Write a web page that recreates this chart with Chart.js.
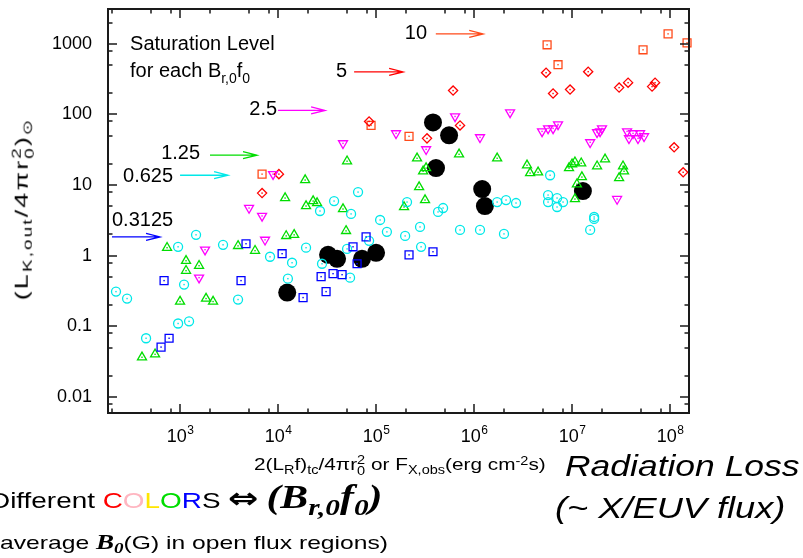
<!DOCTYPE html>
<html>
<head>
<meta charset="utf-8">
<script src="https://cdn.jsdelivr.net/npm/chart.js@4.4.1/dist/chart.umd.min.js"></script>
<style>
    html, body { margin: 0; padding: 0; background: #fff; overflow: hidden; }
    #contenedor { position: relative; width: 803px; height: 558px; overflow: hidden; }
    #grafico { position: absolute; left: 0; top: 0; }
    .txt { position: absolute; left: 0; top: 0; white-space: nowrap; color: #000;
           font-family: "Liberation Sans", Arial, sans-serif; line-height: 1.2; }
    .txt sub { font-size: 0.7em; vertical-align: -0.3em; line-height: 0; }
    .txt sup { font-size: 0.7em; vertical-align: 0.45em; line-height: 0; }
    .ss { display: inline-block; font-size: 0.7em; line-height: 0.95; vertical-align: -0.45em; }
    .ss span { display: block; }
    .it { font-style: italic; }
    .serif { font-family: "Liberation Serif", "Times New Roman", serif; font-weight: bold; font-style: italic; }
    .flechadoble { font-family: "DejaVu Sans", sans-serif; font-weight: bold; font-size: 1.3em; }
</style>
</head>
<body>
<div id="contenedor">
    <canvas id="grafico" width="803" height="558"></canvas>
    <div class="txt" id="tituloY" style="font-size:19px;letter-spacing:1.5px">(L<sub>K,out</sub>/4πr<span class="ss"><span>2</span><span>0</span></span>)<sub>⊙</sub></div>
    <div class="txt" id="tituloX" style="font-size:17px">2(L<sub>R</sub>f)<sub>tc</sub>/4πr<span class="ss"><span>2</span><span>0</span></span> or F<sub>X,obs</sub>(erg cm<sup>-2</sup>s)</div>
    <div class="txt it" id="radLoss" style="font-size:30px">Radiation Loss</div>
    <div class="txt it" id="flux" style="font-size:29px">(~ X/EUV flux)</div>
    <div class="txt" id="colores" style="font-size:22px">Different <span style="color:#ff0000">C</span><span style="color:#ffb6c1">O</span><span style="color:#ffe600">L</span><span style="color:#00dd00">O</span><span style="color:#0000ff">R</span>S <span class="flechadoble">⇔</span> <span class="serif" style="font-size:1.5em">(B<sub>r,0</sub>f<sub>0</sub>)</span></div>
    <div class="txt" id="promedio" style="font-size:19px">average <span class="serif" style="font-size:1.1em">B<sub>0</sub></span>(G) in open flux regions)</div>
</div>
<script>
// ejes
const xTickValues = [1e3, 1e4, 1e5, 1e6, 1e7, 1e8];
const xTickExponents = ['3', '4', '5', '6', '7', '8'];
const yTickValues = [0.01, 0.1, 1, 10, 100, 1000];
const yTickLabels = ['0.01', '0.1', '1', '10', '100', '1000'];
const minorSteps = [2, 5, 8];

// B_r,0 f_0 = 0.3125 (cuadros azules)
const sat03125X = [687, 4190, 773, 640, 4710, 1.10e4, 1.80e4, 3.09e4, 2.75e4, 3.64e4, 4.50e4, 6.40e4, 7.91e4, 5.82e4, 2.17e5, 3.81e5];
const sat03125Y = [0.445, 0.445, 0.068, 0.051, 1.48, 1.07, 0.256, 0.311, 0.506, 0.558, 0.540, 0.771, 1.85, 1.34, 1.03, 1.14];

// 0.625 (circulos cian)
const sat0625X = [222, 288, 450, 955, 1236, 1099, 3906, 1.26e4, 1.39e4, 1456, 2746, 955, 8283, 2.81e4, 5.43e4, 1.93e4, 3.73e4, 2.68e4, 5.56e4, 6.55e4,
                  1.10e5, 1.29e5, 1.98e5, 2.81e5, 2.88e5, 8.49e4, 5.06e4, 2.07e5, 4.29e5, 4.83e5, 7.19e5, 1.15e6, 1.72e6, 2.12e6, 2.68e6, 2.02e6,
                  5.97e6, 5.69e6, 5.69e6, 7.03e6, 8.09e6, 7.03e6, 1.68e7, 1.68e7, 1.53e7];
const sat0625Y = [0.311, 0.248, 0.068, 0.110, 0.118, 0.391, 0.240, 0.474, 0.797, 1.98, 1.43, 1.34, 0.968, 0.771, 0.490, 1.30, 5.95, 4.30, 3.91, 7.97,
                  3.21, 2.18, 1.91, 2.56, 1.34, 1.63, 1.25, 5.76, 4.17, 4.74, 2.32, 2.32, 5.76, 6.15, 5.58, 2.04,
                  13.8, 7.23, 5.76, 6.56, 5.76, 4.90, 3.54, 3.32, 2.32];

// 1.25 (triangulos verdes)
const sat125X = [409, 556, 1000, 1842, 2172, 1151, 1563, 1151, 737, 3906, 5824, 1.21e4, 1.46e4, 1.18e4, 1.89e4, 1.93e4, 2.28e4, 2.50e4, 4.60e4, 4.94e4,
                 5.06e4, 1.93e5, 3.16e5, 2.75e5, 3.02e5, 3.24e5, 2.62e5, 7.03e5, 1.72e6, 3.47e6, 3.73e6, 4.50e6, 9.31e6, 1.0e7, 1.07e7, 1.24e7,
                 1.80e7, 2.17e7, 1.26e7, 1.12e7, 1.07e7, 3.31e7, 3.39e7, 3.02e7];
const sat125Y = [0.0366, 0.0403, 0.225, 0.248, 0.225, 0.850, 0.723, 0.615, 1.30, 1.38, 1.18, 1.91, 1.98, 6.56, 11.8, 5.06, 5.95, 5.58, 4.59, 2.25,
                 21.8, 4.90, 6.15, 9.37, 15.7, 17.4, 24.0, 27.3, 24.0, 19.1, 14.8, 15.2, 17.4, 19.8, 21.1, 20.4,
                 18.5, 23.2, 13.0, 10.3, 6.35, 18.5, 15.7, 12.6];

// 2.5 (triangulos invertidos magenta)
const sat25X = [1563, 1799, 7366, 5058, 6868, 8892, 4.60e4, 1.60e5, 3.24e5, 6.40e5, 1.15e6, 2.33e6, 4.94e6, 5.69e6, 6.40e6, 7.19e6,
                1.53e7, 1.80e7, 1.93e7, 2.02e7, 2.88e7, 3.64e7, 4.19e7, 4.94e7, 5.43e7, 3.81e7, 4.71e7];
const sat25Y = [0.490, 1.22, 1.68, 4.74, 3.66, 14.3, 39.0, 54.0, 32.1, 93.7, 47.4, 107, 57.6, 63.5, 63.5, 72.3,
                40.3, 55.8, 57.6, 63.5, 6.35, 57.6, 54.0, 54.0, 49.0, 45.9, 45.9];

// 5 (rombos rojos)
const sat5X = [6868, 1.02e4, 8.49e4, 3.31e5, 6.11e5, 7.19e5, 5.43e6, 6.40e6, 9.54e6, 1.46e7, 3.02e7, 3.73e7, 6.55e7, 7.03e7, 1.10e8, 1.36e8];
const sat5Y = [7.71, 14.3, 79.7, 45.9, 218, 70.0, 390, 198, 225, 403, 240, 282, 248, 282, 34.3, 15.2];

// 10 (cuadros naranja)
const sat10X = [6868, 8.89e4, 2.17e5, 5.56e6, 7.19e6, 5.30e7, 9.54e7, 1.49e8];
const sat10Y = [14.3, 70.0, 49.0, 968, 506, 823, 1383, 1033];

// observaciones (circulos negros)
const obsX = [3.81e5, 5.56e5, 4.09e5, 1.21e6, 1.29e6, 1.29e7, 1.24e4, 3.24e4, 4.00e4, 7.19e4, 1.0e5];
const obsY = [77.2, 50.6, 17.4, 8.78, 5.06, 8.23, 0.301, 1.03, 0.907, 0.907, 1.10];

// flechas de nivel de saturacion
const nivelLabels = ['10', '5', '2.5', '1.25', '0.625', '0.3125'];
const flechaX0 = [4.07e5, 5.97e4, 1.0e4, 2.02e3, 1000, 202];
const flechaX1 = [1.24e6, 1.89e5, 3.02e4, 6.1e3, 3.09e3, 625];
const flechaY = [1380, 400, 114, 26.5, 13.8, 1.85];
const etiquetaX = [3.31e5, 5.06e4, 9.77e3, 1.6e3, 849, 202];
const etiquetaY = [1380, 400, 116, 28.2, 13.4, 3.11];

const FUENTE = '"Liberation Sans", Arial, sans-serif';
const colores = ['#ff4a1a', '#ff0000', '#ff00ff', '#00dd00', '#00e8e8', '#0000ff'];

function puntos(xs, ys) {
    return xs.map((x, i) => ({ x: x, y: ys[i] }));
}

function abierto(label, xs, ys, color, estilo, radio, rotacion) {
    return {
        label: label,
        data: puntos(xs, ys),
        pointStyle: estilo,
        pointRadius: radio,
        pointRotation: rotacion || 0,
        pointBorderColor: color,
        pointBackgroundColor: 'rgba(0,0,0,0)',
        pointBorderWidth: 1.3,
        showLine: false,
        clip: false,
        punto: true
    };
}

function textoRico(ctx, partes, x, y, size) {
    let cx = x;
    partes.forEach(([t, modo]) => {
        const fs = modo ? size * 0.7 : size;
        ctx.font = fs + 'px ' + FUENTE;
        ctx.fillText(t, cx, y + (modo === 1 ? size * 0.3 : 0));
        cx += ctx.measureText(t).width;
    });
}

const marcoPlugin = {
    id: 'marco',
    afterDatasetsDraw(chart) {
        const ctx = chart.ctx;
        // punto central de los marcadores abiertos
        chart.data.datasets.forEach((ds, i) => {
            if (!ds.punto) return;
            ctx.fillStyle = ds.pointBorderColor;
            chart.getDatasetMeta(i).data.forEach(el => {
                ctx.fillRect(el.x - 0.7, el.y - 0.7, 1.4, 1.4);
            });
        });
    },
    afterDraw(chart) {
        const ctx = chart.ctx;
        const a = chart.chartArea;
        const xs = chart.scales.x, ys = chart.scales.y;
        ctx.save();
        ctx.strokeStyle = '#1a1a1a';
        ctx.lineWidth = 1.5;
        // ticks hacia adentro
        const ticksX = [], ticksY = [];
        xTickValues.concat([1e2]).forEach(v => {
            ticksX.push([v, 9]);
            minorSteps.forEach(m => ticksX.push([v * m, 4.5]));
        });
        yTickValues.concat([1e-3]).forEach(v => {
            ticksY.push([v, 9]);
            minorSteps.forEach(m => ticksY.push([v * m, 4.5]));
        });
        ctx.beginPath();
        ticksX.forEach(([v, len]) => {
            const px = Math.round(xs.getPixelForValue(v));
            if (px < a.left || px > a.right) return;
            ctx.moveTo(px, a.bottom); ctx.lineTo(px, a.bottom - len);
            ctx.moveTo(px, a.top); ctx.lineTo(px, a.top + len);
        });
        ticksY.forEach(([v, len]) => {
            const py = Math.round(ys.getPixelForValue(v));
            if (py < a.top || py > a.bottom) return;
            ctx.moveTo(a.left, py); ctx.lineTo(a.left + len, py);
            ctx.moveTo(a.right, py); ctx.lineTo(a.right - len, py);
        });
        ctx.stroke();
        ctx.lineWidth = 2;
        ctx.strokeRect(a.left, a.top, a.right - a.left, a.bottom - a.top);

        // etiquetas de los ejes
        ctx.fillStyle = '#000';
        ctx.textBaseline = 'middle';
        ctx.textAlign = 'right';
        ctx.font = '18px ' + FUENTE;
        yTickValues.forEach((v, i) => {
            ctx.fillText(yTickLabels[i], a.left - 16, ys.getPixelForValue(v));
        });
        ctx.textBaseline = 'alphabetic';
        ctx.textAlign = 'left';
        xTickValues.forEach((v, i) => {
            const px = xs.getPixelForValue(v);
            ctx.font = '18px ' + FUENTE;
            const w1 = ctx.measureText('10').width;
            ctx.font = '12px ' + FUENTE;
            const w2 = ctx.measureText(xTickExponents[i]).width;
            const x0 = px - (w1 + w2) / 2;
            ctx.font = '18px ' + FUENTE;
            ctx.fillText('10', x0, a.bottom + 29);
            ctx.font = '12px ' + FUENTE;
            ctx.fillText(xTickExponents[i], x0 + w1 + 0.5, a.bottom + 21);
        });

        // texto de saturacion
        ctx.font = '20px ' + FUENTE;
        ctx.fillText('Saturation Level', xs.getPixelForValue(309), ys.getPixelForValue(823));
        textoRico(ctx, [['for each B', 0], ['r,0', 1], ['f', 0], ['0', 1]], xs.getPixelForValue(309), ys.getPixelForValue(343), 20);

        // flechas
        nivelLabels.forEach((lab, i) => {
            const x0 = xs.getPixelForValue(flechaX0[i]);
            const x1 = xs.getPixelForValue(flechaX1[i]);
            const y = ys.getPixelForValue(flechaY[i]);
            ctx.strokeStyle = colores[i];
            ctx.lineWidth = 1.3;
            ctx.beginPath();
            ctx.moveTo(x0, y); ctx.lineTo(x1, y);
            ctx.moveTo(x1 - 14, y - 3.5); ctx.lineTo(x1, y); ctx.lineTo(x1 - 14, y + 3.5);
            ctx.stroke();
            ctx.fillStyle = '#000';
            ctx.font = '20px ' + FUENTE;
            ctx.textBaseline = 'middle';
            ctx.textAlign = i === nivelLabels.length - 1 ? 'left' : 'right';
            ctx.fillText(lab, xs.getPixelForValue(etiquetaX[i]), ys.getPixelForValue(etiquetaY[i]));
        });
        ctx.restore();
    }
};

function ubicar(id, left, centroY, ancho) {
    const el = document.getElementById(id);
    const w = el.offsetWidth, h = el.offsetHeight;
    el.style.left = left + 'px';
    el.style.top = (centroY - h / 2) + 'px';
    el.style.transformOrigin = '0 50%';
    el.style.transform = 'scaleX(' + (ancho / w) + ')';
}

function ubicarVertical(id, cx, cy, largo) {
    const el = document.getElementById(id);
    const w = el.offsetWidth, h = el.offsetHeight;
    el.style.left = (cx - w / 2) + 'px';
    el.style.top = (cy - h / 2) + 'px';
    el.style.transformOrigin = '50% 50%';
    el.style.transform = 'rotate(-90deg) scaleX(' + (largo / w) + ')';
}

document.addEventListener("DOMContentLoaded", () => {

    const grafico = document.querySelector("#grafico");

    new Chart(grafico, {
        type: 'scatter',
        data: {
            datasets: [
                abierto('0.3125', sat03125X, sat03125Y, colores[5], 'rect', 5.6),
                abierto('0.625', sat0625X, sat0625Y, colores[4], 'circle', 4.5),
                abierto('1.25', sat125X, sat125Y, colores[3], 'triangle', 5.2),
                abierto('2.5', sat25X, sat25Y, colores[2], 'triangle', 5.2, 180),
                abierto('5', sat5X, sat5Y, colores[1], 'rectRot', 4.6),
                abierto('10', sat10X, sat10Y, colores[0], 'rect', 5.6),
                {
                    label: 'obs',
                    data: puntos(obsX, obsY),
                    pointStyle: 'circle',
                    pointRadius: 9,
                    pointBackgroundColor: '#000',
                    pointBorderColor: '#000',
                    pointBorderWidth: 0,
                    clip: false
                }
            ]
        },
        options: {
            responsive: false,
            animation: false,
            layout: { padding: { left: 108, right: 114, top: 7, bottom: 145 } },
            plugins: { legend: { display: false }, tooltip: { enabled: false } },
            scales: {
                x: { type: 'logarithmic', min: 184, max: 1.56e8, display: false },
                y: { type: 'logarithmic', min: 0.00595, max: 3110, display: false }
            }
        },
        plugins: [marcoPlugin]
    });

    //Textos de los titulos
    ubicarVertical('tituloY', 23, 209, 183);
    ubicar('tituloX', 254, 466, 292);
    ubicar('radLoss', 565, 466, 234);
    ubicar('flux', 555, 508, 231);
    ubicar('colores', -10, 498, 393);
    ubicar('promedio', 0, 542, 388);
});
</script>
</body>
</html>
